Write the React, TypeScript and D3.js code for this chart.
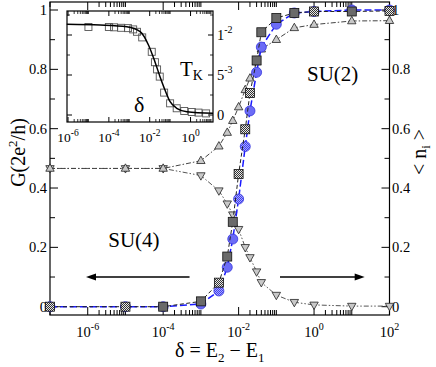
import * as d3 from "d3";

// ---- main panel data (delta = E2 - E1) ----
const delta = [1e-7, 1e-5, 1e-4, 1e-3, 3e-3, 5e-3, 7e-3, 1e-2, 1.5e-2, 2e-2, 3e-2, 4e-2, 0.1, 0.3, 1, 10, 100];
const nUp = [0.466, 0.466, 0.466, 0.492, 0.541, 0.587, 0.627, 0.673, 0.731, 0.77, 0.825, 0.868, 0.9, 0.94, 0.951, 0.963, 0.964];
const nDown = [0.466, 0.466, 0.466, 0.442, 0.391, 0.347, 0.31, 0.261, 0.2, 0.166, 0.118, 0.082, 0.039, 0.015, 0.006, 0.002, 0.002];

const gBlueX = [1e-7, 1e-5, 1e-4, 1e-3, 5e-3, 7e-3, 2e-2, 3e-2, 4e-2, 0.1, 0.3, 1, 10, 100];
const gBlue = [0, 0, 0, 0.009, 0.133, 0.228, 0.66, 0.79, 0.875, 0.952, 0.99, 0.995, 1.0, 1.0];
const gBlueHatchX = [3e-3, 1e-2, 1.5e-2];
const gBlueHatch = [0.053, 0.363, 0.54];

const gGrayX = [1e-4, 1e-3, 5e-3, 7e-3, 3e-2, 4e-2, 0.1, 0.3, 10];
const gGray = [0, 0.018, 0.169, 0.286, 0.83, 0.925, 0.973, 0.99, 0.995];
const gGrayHatchX = [1e-7, 1e-5, 3e-3, 1e-2, 1.5e-2, 2e-2, 1, 100];
const gGrayHatch = [0, 0, 0.081, 0.447, 0.598, 0.72, 0.995, 0.997];

const yTicks = [0, 0.2, 0.4, 0.6, 0.8, 1];
const yMinor = [0.1, 0.3, 0.5, 0.7, 0.9];
const xMajor = [1e-6, 1e-4, 1e-2, 1, 100];
const xMajorExp = ["-6", "-4", "-2", "0", "2"];

// ---- inset data (T_K vs delta) ----
const tkDelta = [1e-5, 1e-4, 1.8e-4, 4e-4, 8.7e-4, 1.55e-3, 2.4e-3, 4.3e-3, 1.26e-2, 1.8e-2, 2.3e-2, 3.1e-2, 5.1e-2, 0.1, 0.21, 0.49, 1.15, 2.45, 5.8];
const tk = [0.011, 0.011, 0.01096, 0.0109, 0.01086, 0.0107, 0.0104, 0.0097, 0.0079, 0.0066, 0.0057, 0.0048, 0.0028, 0.00146, 0.00084, 0.0005, 0.00037, 0.0003, 0.0002];
const tkFitDelta = [8.7e-7, 3.7e-5, 7.6e-4, 3.4e-3, 8.7e-3, 1.8e-2, 3.2e-2, 5.6e-2, 0.1, 0.21, 0.66, 12.6];
const tkFit = [0.01134, 0.01125, 0.01104, 0.01041, 0.00875, 0.00666, 0.00479, 0.00313, 0.00166, 0.00084, 0.00041, 0.00021];
const insetXMajor = [1e-6, 1e-4, 1e-2, 1];
const insetXExp = ["-6", "-4", "-2", "0"];
const insetYTicks = [0, 0.005, 0.01];
const insetYLabels = [["0", ""], ["5", "-3"], ["1", "-2"]];
const insetYMinor = [0.0025, 0.0075, 0.0125];

const FONT = "Liberation Serif, Times New Roman, DejaVu Serif, serif";

const zip = (xs: number[], ys: number[]) => xs.map((d, i) => [d, ys[i]] as [number, number]);
const merged = (a: [number, number][], b: [number, number][]) => [...a, ...b].sort((p, q) => p[0] - q[0]);

const logMinors = (exps: number[], dom: [number, number]) => {
  const out: number[] = [];
  exps.forEach((e) => {
    for (let k = 2; k <= 10; k++) {
      const v = k * Math.pow(10, e);
      if (v >= dom[0] * 0.999 && v <= dom[1] * 1.001) out.push(v);
    }
  });
  return out;
};

export default function App() {
  const x = d3.scaleLog().domain([1e-7, 1e2]).range([50, 389.5]);
  const y = d3.scaleLinear().domain([-0.028, 1.027]).range([315, 2]);
  const [x0, x1] = x.range();
  const [y0, y1] = y.range();

  const ix = d3.scaleLog().domain([Math.pow(10, -6.05), Math.pow(10, 1.1)]).range([67, 213]);
  const iy = d3.scaleLinear().domain([-0.000875, 0.013]).range([122, 11]);
  const [ix0, ix1] = ix.range();
  const [iy0, iy1] = iy.range();

  const line = d3.line<[number, number]>().x((d) => x(d[0])).y((d) => y(d[1]));
  const iline = d3
    .line<[number, number]>()
    .x((d) => ix(d[0]))
    .y((d) => iy(d[1]))
    .curve(d3.curveMonotoneX);

  const upPts = zip(delta, nUp);
  const downPts = zip(delta, nDown);
  const blueSolid = zip(gBlueX, gBlue);
  const blueHatch = zip(gBlueHatchX, gBlueHatch);
  const graySolid = zip(gGrayX, gGray);
  const grayHatch = zip(gGrayHatchX, gGrayHatch);

  const xMinor = logMinors([-8, -6, -4, -2, 0], [1e-7, 1e2]).filter((v) => !xMajor.some((m) => Math.abs(m / v - 1) < 1e-6));
  const ixMinor = logMinors([-8, -6, -4, -2, 0], [Math.pow(10, -6.05), Math.pow(10, 1.1)]).filter(
    (v) => !insetXMajor.some((m) => Math.abs(m / v - 1) < 1e-6)
  );

  const tri = (up: boolean) => (up ? "M0,-4.6L4.2,2.8L-4.2,2.8Z" : "M0,4.6L4.2,-2.8L-4.2,-2.8Z");

  const arrow = (from: number, to: number, yv: number) => {
    const xa = x(from);
    const xb = x(to);
    const yy = y(yv);
    const dir = xb > xa ? 1 : -1;
    return (
      <g>
        <line x1={xa} x2={xb - dir * 6} y1={yy} y2={yy} stroke="#000" strokeWidth={1.6} />
        <path d={`M${xb},${yy}L${xb - dir * 10},${yy - 3.6}L${xb - dir * 10},${yy + 3.6}Z`} fill="#000" />
      </g>
    );
  };

  return (
    <svg width={436} height={367} style={{ position: "absolute", left: 0, top: 0, background: "#fff", fontFamily: FONT }}>
      <defs>
        <pattern id="hatchGray" width={2} height={2} patternUnits="userSpaceOnUse">
          <rect width={2} height={2} fill="#e8e8e8" />
          <rect width={1} height={1} fill="#333" />
          <rect x={1} y={1} width={1} height={1} fill="#333" />
        </pattern>
        <pattern id="hatchBlue" width={2} height={2} patternUnits="userSpaceOnUse">
          <rect width={2} height={2} fill="#a8a8ff" />
          <rect width={1} height={1} fill="#4040ee" />
          <rect x={1} y={1} width={1} height={1} fill="#4040ee" />
        </pattern>
      </defs>

      {/* frame */}
      <rect x={x0} y={y1} width={x1 - x0} height={y0 - y1} fill="none" stroke="#000" strokeWidth={1.2} />

      {/* y ticks left & right */}
      {yTicks.map((v) => (
        <g key={"yt" + v}>
          <line x1={x0} x2={x0 + 8} y1={y(v)} y2={y(v)} stroke="#000" />
          <line x1={x1} x2={x1 - 8} y1={y(v)} y2={y(v)} stroke="#000" />
          <text x={x0 - 3} y={y(v) + 5} textAnchor="end" fontSize={14.5}>
            {v}
          </text>
          <text x={x1 + 2.5} y={y(v) + 5} textAnchor="start" fontSize={14.5}>
            {v}
          </text>
        </g>
      ))}
      {yMinor.map((v) => (
        <g key={"ym" + v}>
          <line x1={x0} x2={x0 + 5} y1={y(v)} y2={y(v)} stroke="#000" />
          <line x1={x1} x2={x1 - 5} y1={y(v)} y2={y(v)} stroke="#000" />
        </g>
      ))}

      {/* x ticks bottom & top */}
      {xMajor.map((v, i) => (
        <g key={"xt" + v}>
          <line x1={x(v)} x2={x(v)} y1={y0} y2={y0 - 8} stroke="#000" />
          <line x1={x(v)} x2={x(v)} y1={y1} y2={y1 + 8} stroke="#000" />
          <text x={x(v)} y={336.5} textAnchor="middle" fontSize={14.5}>
            10
            <tspan dy={-7} fontSize={10}>
              {xMajorExp[i]}
            </tspan>
          </text>
        </g>
      ))}
      {xMinor.map((v) => (
        <g key={"xm" + v}>
          <line x1={x(v)} x2={x(v)} y1={y0} y2={y0 - 5} stroke="#000" />
          <line x1={x(v)} x2={x(v)} y1={y1} y2={y1 + 5} stroke="#000" />
        </g>
      ))}

      {/* axis titles */}
      <text transform="translate(25,152.5) rotate(-90)" textAnchor="middle" fontSize={20}>
        G(2e
        <tspan dy={-8} fontSize={13}>
          2
        </tspan>
        <tspan dy={8}>/h)</tspan>
      </text>
      <text transform="translate(426,152) rotate(-90)" textAnchor="middle" fontSize={20}>
        {"< n"}
        <tspan dy={4} fontSize={13}>
          i
        </tspan>
        <tspan dy={-4}>{" >"}</tspan>
      </text>
      <text x={219.7} y={356.5} textAnchor="middle" fontSize={20}>
        {"δ = E"}
        <tspan dy={5} fontSize={13}>
          2
        </tspan>
        <tspan dy={-5}>{" − E"}</tspan>
        <tspan dy={5} fontSize={13}>
          1
        </tspan>
      </text>

      {/* annotations */}
      <text x={x(3.5e-6)} y={y(0.202)} fontSize={21}>
        SU(4)
      </text>
      <text x={x(0.65)} y={y(0.76)} fontSize={21}>
        SU(2)
      </text>
      {arrow(5e-4, 9e-7, 0.1)}
      {arrow(0.125, 22, 0.1)}

      {/* <n_i> triangles */}
      <path d={line(downPts) || ""} fill="none" stroke="#555" strokeWidth={1} strokeDasharray="1.5,2,1.5,2,5,2" />
      <path d={line(upPts) || ""} fill="none" stroke="#444" strokeWidth={1} strokeDasharray="5,2,1.5,2" />
      {downPts.map((d, i) => (
        <path key={"dn" + i} d={tri(false)} transform={`translate(${x(d[0])},${y(d[1])})`} fill="#c8c8c8" stroke="#222" strokeWidth={0.8} />
      ))}
      {upPts.map((d, i) => (
        <path key={"up" + i} d={tri(true)} transform={`translate(${x(d[0])},${y(d[1])})`} fill="#c8c8c8" stroke="#222" strokeWidth={0.8} />
      ))}

      {/* G: blue circles */}
      <path d={line(merged(blueSolid, blueHatch)) || ""} fill="none" stroke="#1a1aff" strokeWidth={1.5} strokeDasharray="7,3" />
      {blueSolid.map((d, i) => (
        <circle key={"bc" + i} cx={x(d[0])} cy={y(d[1])} r={5} fill="#6c6cf6" stroke="#3434dd" strokeWidth={0.8} />
      ))}
      {blueHatch.map((d, i) => (
        <circle key={"bh" + i} cx={x(d[0])} cy={y(d[1])} r={5} fill="url(#hatchBlue)" stroke="#3434dd" strokeWidth={0.8} />
      ))}

      {/* G: gray squares */}
      <path d={line(merged(graySolid, grayHatch)) || ""} fill="none" stroke="#222" strokeWidth={1} strokeDasharray="4,2.5" />
      {graySolid.map((d, i) => (
        <rect key={"gs" + i} x={x(d[0]) - 4.5} y={y(d[1]) - 4.5} width={9} height={9} fill="#6a6a6a" stroke="#111" strokeWidth={0.8} />
      ))}
      {grayHatch.map((d, i) => (
        <rect key={"gh" + i} x={x(d[0]) - 4.5} y={y(d[1]) - 4.5} width={9} height={9} fill="url(#hatchGray)" stroke="#111" strokeWidth={0.8} />
      ))}

      {/* ---- inset ---- */}
      <rect x={ix0} y={iy1} width={ix1 - ix0} height={iy0 - iy1} fill="#fff" stroke="#000" strokeWidth={1.2} />
      {insetXMajor.map((v, i) => (
        <g key={"ixt" + v}>
          <line x1={ix(v)} x2={ix(v)} y1={iy0} y2={iy0 - 5} stroke="#000" />
          <line x1={ix(v)} x2={ix(v)} y1={iy1} y2={iy1 + 5} stroke="#000" />
          <text x={ix(v)} y={141.5} textAnchor="middle" fontSize={13.5}>
            10
            <tspan dy={-6} fontSize={9.5}>
              {insetXExp[i]}
            </tspan>
          </text>
        </g>
      ))}
      {ixMinor.map((v) => (
        <g key={"ixm" + v}>
          <line x1={ix(v)} x2={ix(v)} y1={iy0} y2={iy0 - 3} stroke="#000" strokeWidth={0.8} />
          <line x1={ix(v)} x2={ix(v)} y1={iy1} y2={iy1 + 3} stroke="#000" strokeWidth={0.8} />
        </g>
      ))}
      {insetYTicks.map((v, i) => (
        <g key={"iyt" + v}>
          <line x1={ix0} x2={ix0 + 5} y1={iy(v)} y2={iy(v)} stroke="#000" />
          <line x1={ix1} x2={ix1 - 5} y1={iy(v)} y2={iy(v)} stroke="#000" />
          <text x={ix1 + 4} y={iy(v) + 5} fontSize={14.5}>
            {insetYLabels[i][0]}
            <tspan dy={-7} fontSize={10}>
              {insetYLabels[i][1]}
            </tspan>
          </text>
        </g>
      ))}
      {insetYMinor.map((v) => (
        <g key={"iym" + v}>
          <line x1={ix0} x2={ix0 + 3} y1={iy(v)} y2={iy(v)} stroke="#000" strokeWidth={0.8} />
          <line x1={ix1} x2={ix1 - 3} y1={iy(v)} y2={iy(v)} stroke="#000" strokeWidth={0.8} />
        </g>
      ))}
      {zip(tkDelta, tk).map((d, i) => (
        <rect key={"tk" + i} x={ix(d[0]) - 3.5} y={iy(d[1]) - 3.5} width={7} height={7} fill="none" stroke="#555" strokeWidth={0.9} />
      ))}
      <path d={iline(zip(tkFitDelta, tkFit)) || ""} fill="none" stroke="#000" strokeWidth={1.5} />
      <text x={180} y={76} fontSize={21}>
        T
        <tspan dy={4} fontSize={14}>
          K
        </tspan>
      </text>
      <text x={134} y={112} fontSize={22}>
        δ
      </text>
    </svg>
  );
}
